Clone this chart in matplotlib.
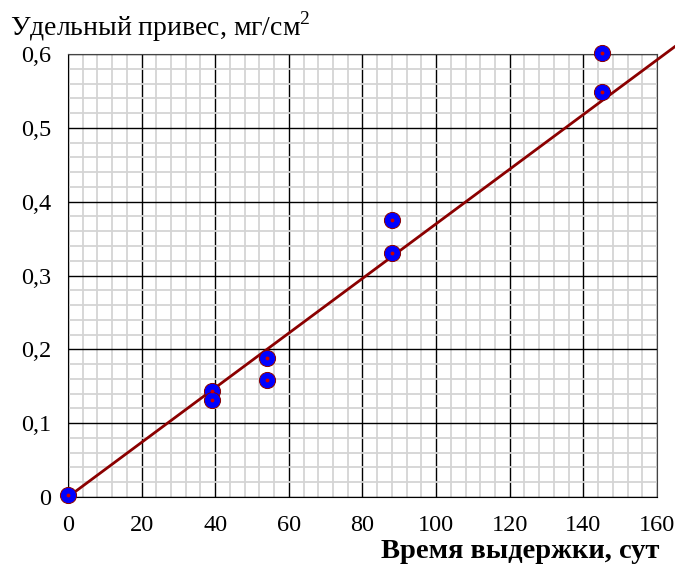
import numpy as np
import matplotlib.pyplot as plt
from matplotlib.ticker import MultipleLocator, FuncFormatter

# данные
days = [0, 39, 39, 54, 54, 88, 88, 145, 145]
gain = [0.003, 0.144, 0.131, 0.188, 0.159, 0.375, 0.331, 0.602, 0.549]
fit_x = [0, 165]
slope = 0.0037

plt.rcParams['font.family'] = ['Liberation Serif', 'DejaVu Serif']

fig = plt.figure(figsize=(6.75, 5.66), dpi=100)
ax = fig.add_axes([0.1007, 0.1219, 0.8726, 0.7827])

ax.set_xlim(0, 160)
ax.set_ylim(0, 0.6)
ax.xaxis.set_major_locator(MultipleLocator(20))
ax.xaxis.set_minor_locator(MultipleLocator(4))
ax.yaxis.set_major_locator(MultipleLocator(0.1))
ax.yaxis.set_minor_locator(MultipleLocator(0.02))
ax.grid(which='minor', color='#d4d4d4', lw=1.3, zorder=0)
ax.grid(which='major', color='black', lw=1.0, zorder=1)
ax.set_axisbelow(True)
ax.tick_params(which='both', length=0, labelsize=17.5)
ax.tick_params(axis='x', pad=13)
ax.tick_params(axis='y', pad=12)
ax.yaxis.set_major_formatter(FuncFormatter(lambda v, p: ('%.1f' % v).replace('.', ',') if v > 0 else '0'))
ax.xaxis.set_major_formatter(FuncFormatter(lambda v, p: '%d' % v))
for s in ['left', 'bottom']:
    ax.spines[s].set_color('black')
for s in ['top', 'right']:
    ax.spines[s].set_color('#444444')

fx = np.array(fit_x)
ax.plot(fx, slope * fx, color='#8b0000', lw=2, clip_on=False, zorder=3)
ax.scatter(days, gain, s=135, c='#0000ff', edgecolors='#8b0000', linewidths=0.7, clip_on=False, zorder=4)
ax.scatter(days, gain, s=3, c='#cc0000', clip_on=False, zorder=5)

fig.text(0.015, 0.952, 'Удельный привес, мг/см$^\\mathregular{2}$', fontsize=20, va='center', ha='left')
fig.text(0.77, 0.025, 'Время выдержки, сут', fontsize=20.5, fontweight='bold', va='center', ha='center')

fig.savefig('out.png')
